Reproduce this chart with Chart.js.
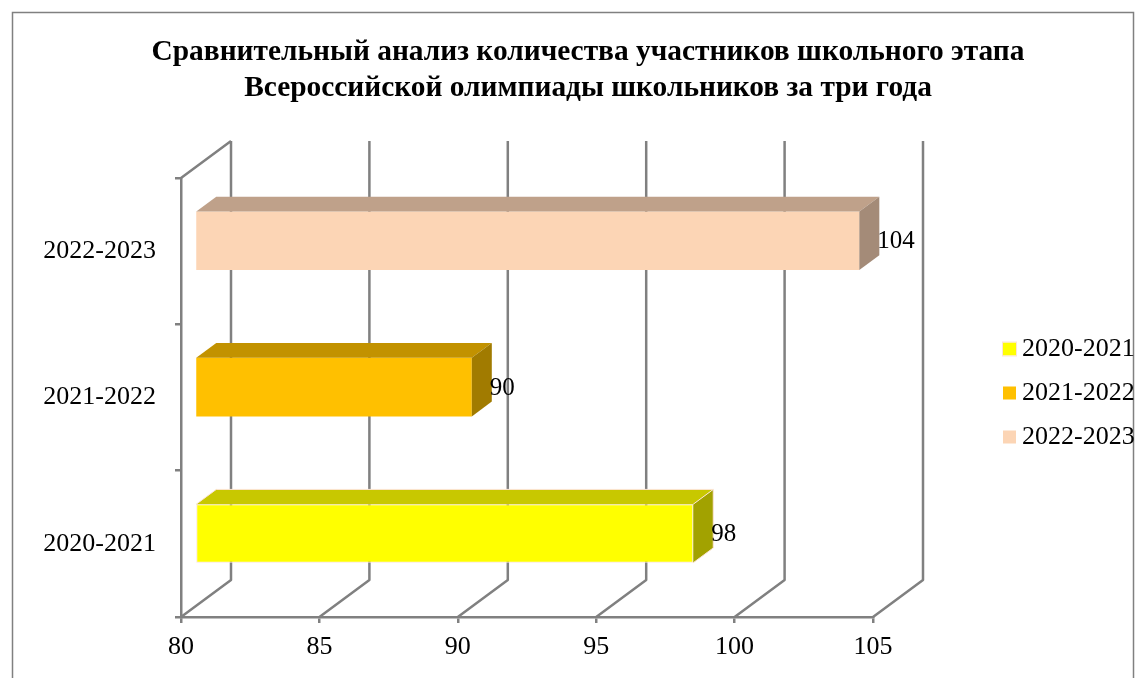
<!DOCTYPE html>
<html lang="ru">
<head>
<meta charset="utf-8">
<title>Участники школьного этапа ВсОШ</title>
<script src="https://cdn.jsdelivr.net/npm/chart.js@4.4.1/dist/chart.umd.min.js"></script>
<style>
  html, body { margin: 0; padding: 0; background: #fff; }
  #wrap { width: 1146px; height: 678px; }
</style>
</head>
<body>
<div id="wrap"><canvas id="grafico"></canvas></div>
<script>
const categorias = ['2020-2021', '2021-2022', '2022-2023'];
const participantes = [98, 90, 104];
const ticksX = [80, 85, 90, 95, 100, 105];
const titulo = [
  'Сравнительный анализ количества участников школьного этапа',
  'Всероссийской олимпиады школьников за три года'
];

// cores das faces (frente / topo / lado)
const coresFrente = ['#FFFF00', '#FFC000', '#FCD5B5'];
const coresTopo = ['#C8C800', '#C29200', '#BFA18A'];
const coresLado = ['#A2A200', '#A17B00', '#A48B78'];
const corGrade = '#808080';
const fonte = '"Liberation Serif", "Times New Roman", serif';

// profundidade da "caixa" 3D
const PX = 50, PY = -37;
const BARRA_OFF = 0.28, BARRA_PROF = 0.4;

const cena3d = {
  id: 'cena3d',
  beforeDraw(chart) {
    const { ctx, width, height } = chart;
    ctx.save();
    ctx.fillStyle = '#fff';
    ctx.fillRect(0, 0, width, height);
    ctx.strokeStyle = corGrade;
    ctx.lineWidth = 1.5;
    ctx.strokeRect(12.5, 12.5, width - 25, height + 20);
    ctx.restore();
  },
  beforeDatasetsDraw(chart) {
    const { ctx, chartArea: a, scales: { x } } = chart;
    ctx.save();
    ctx.strokeStyle = corGrade;
    ctx.lineWidth = 2.5;
    ctx.lineJoin = 'round';
    ctx.beginPath();
    // parede esquerda
    ctx.moveTo(a.left, a.top);
    ctx.lineTo(a.left + PX, a.top + PY);
    // chão + parede do fundo
    x.ticks.forEach(t => {
      const px = x.getPixelForValue(t.value);
      ctx.moveTo(px, a.bottom);
      ctx.lineTo(px + PX, a.bottom + PY);
      ctx.lineTo(px + PX, a.top + PY);
    });
    ctx.stroke();
    ctx.restore();

    // barras ficam no meio da profundidade
    ctx.save();
    ctx.translate(PX * BARRA_OFF, PY * BARRA_OFF);
  },
  afterDatasetsDraw(chart) {
    const { ctx } = chart;
    const dx = PX * BARRA_PROF, dy = PY * BARRA_PROF;
    const meta = chart.getDatasetMeta(0);

    meta.data.forEach((bar, i) => {
      const { x, y, base, height } = bar.getProps(['x', 'y', 'base', 'height'], true);
      const top = y - height / 2, bottom = y + height / 2;

      ctx.fillStyle = coresTopo[i];
      ctx.beginPath();
      ctx.moveTo(base, top);
      ctx.lineTo(base + dx, top + dy);
      ctx.lineTo(x + dx, top + dy);
      ctx.lineTo(x, top);
      ctx.closePath();
      ctx.fill();

      ctx.fillStyle = coresLado[i];
      ctx.beginPath();
      ctx.moveTo(x, top);
      ctx.lineTo(x + dx, top + dy);
      ctx.lineTo(x + dx, bottom + dy);
      ctx.lineTo(x, bottom);
      ctx.closePath();
      ctx.fill();

      if (i === 0) {
        ctx.strokeStyle = '#FCE4D6';
        ctx.lineWidth = 1;
        ctx.beginPath();
        ctx.moveTo(base, top);
        ctx.lineTo(base + dx, top + dy);
        ctx.lineTo(x + dx, top + dy);
        ctx.lineTo(x + dx, bottom + dy);
        ctx.lineTo(x, bottom);
        ctx.moveTo(x, top);
        ctx.lineTo(x + dx, top + dy);
        ctx.stroke();
      }

      ctx.fillStyle = '#000';
      ctx.font = '25px ' + fonte;
      ctx.textAlign = 'left';
      ctx.textBaseline = 'middle';
      ctx.fillText(String(participantes[i]), x + 18, y + 1);
    });
    ctx.restore();
  },
  afterDraw(chart) {
    // legenda
    const { ctx } = chart;
    ctx.save();
    ctx.font = '26px ' + fonte;
    ctx.textAlign = 'left';
    ctx.textBaseline = 'middle';
    categorias.forEach((c, i) => {
      const yc = 349 + i * 44;
      ctx.fillStyle = coresFrente[i];
      ctx.fillRect(1003, yc - 6.5, 13, 13);
      if (i === 0) {
        ctx.strokeStyle = '#FCE4D6';
        ctx.lineWidth = 1;
        ctx.strokeRect(1002.5, yc - 7, 14, 14);
      }
      ctx.fillStyle = '#000';
      ctx.fillText(c, 1022, yc);
    });
    ctx.restore();
  }
};

new Chart(document.getElementById('grafico'), {
  type: 'bar',
  data: {
    labels: categorias,
    datasets: [{
      label: 'Участники',
      data: participantes,
      base: ticksX[0],
      backgroundColor: coresFrente,
      borderColor: ['#FCE4D6', 'rgba(0,0,0,0)', 'rgba(0,0,0,0)'],
      borderWidth: [1, 0, 0],
      borderSkipped: false,
      barPercentage: 0.4,
      categoryPercentage: 1
    }]
  },
  options: {
    indexAxis: 'y',
    responsive: true,
    maintainAspectRatio: false,
    animation: false,
    devicePixelRatio: 1,
    layout: { padding: { left: 30, right: 0, top: 0, bottom: 0 } },
    plugins: {
      legend: { display: false },
      tooltip: { enabled: false },
      title: {
        display: true,
        text: titulo,
        color: '#000',
        font: { family: fonte, size: 29.4, weight: 'bold', lineHeight: 36 / 29.4 },
        padding: { top: 34, bottom: 72 }
      }
    },
    scales: {
      x: {
        min: ticksX[0],
        max: ticksX[ticksX.length - 1],
        afterBuildTicks: s => { s.ticks = ticksX.map(v => ({ value: v })); },
        afterFit: s => { s.height = 61; },
        grid: { drawOnChartArea: false, color: corGrade, lineWidth: 2.5, tickLength: 6 },
        border: { color: corGrade, width: 2.5 },
        ticks: { color: '#000', padding: 9, font: { family: fonte, size: 26 } }
      },
      y: {
        reverse: true,
        afterFit: s => { s.width = 151; },
        grid: { drawOnChartArea: false, color: corGrade, lineWidth: 2.5, tickLength: 6 },
        border: { color: corGrade, width: 2.5 },
        ticks: { color: '#000', padding: 19, font: { family: fonte, size: 26 } }
      },
      espaco: {
        type: 'linear',
        position: 'right',
        grid: { display: false },
        border: { display: false },
        ticks: { display: false },
        afterFit: s => { s.width = 273; }
      }
    }
  },
  plugins: [cena3d]
});
</script>
</body>
</html>
